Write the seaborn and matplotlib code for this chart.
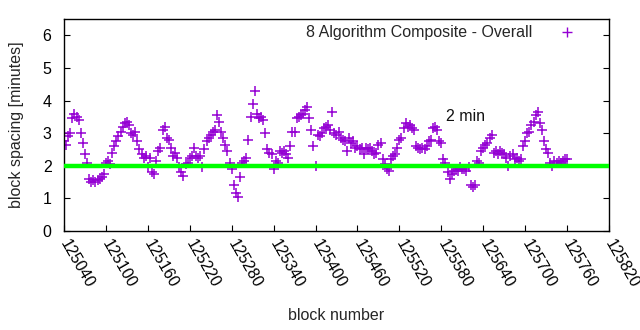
import matplotlib
matplotlib.use("Agg")
import matplotlib.pyplot as plt
import seaborn as sns
import pandas as pd
from matplotlib.lines import Line2D

# ---- data ----
first_block = 125040
block_step = 3
spacing = [
    2.75, 2.65, 2.9, 3.0, 3.45, 3.6, 3.5, 3.4, 3.0, 2.7,
    2.35, 2.1, 1.6, 1.5, 1.55, 1.5, 1.55, 1.6, 1.65, 1.75,
    2.1, 2.15, 2.05, 2.4, 2.6, 2.75, 2.9, 3.05, 3.2, 3.3,
    3.35, 3.25, 3.0, 2.95, 3.05, 2.75, 2.5, 2.35, 2.25, 2.3,
    1.95, 2.25, 1.8, 1.75, 2.15, 2.45, 2.55, 3.1, 3.2, 2.85,
    2.8, 2.55, 2.3, 2.4, 2.25, 1.95, 1.8, 1.7, 2.05, 2.1,
    2.25, 2.3, 2.55, 2.3, 2.25, 2.3, 1.95, 2.5, 2.75, 2.85,
    2.95, 3.05, 3.1, 3.55, 3.35, 3.05, 2.85, 2.65, 2.45, 2.1,
    1.9, 1.4, 1.15, 1.05, 1.65, 2.1, 2.15, 2.25, 2.8, 3.5,
    3.9, 4.3, 3.6, 3.45, 3.5, 3.4, 3.0, 2.5, 2.4, 2.35,
    1.9, 2.15, 2.1, 2.45, 2.4, 2.45, 2.35, 2.25, 2.6, 3.05,
    3.05, 3.45, 3.5, 3.55, 3.6, 3.7, 3.8, 3.45, 3.1, 2.6,
    2.0, 2.95, 2.9, 3.0, 3.15, 3.2, 3.25, 3.1, 3.65, 3.0,
    2.95, 3.05, 2.85, 2.8, 2.75, 2.45, 2.85, 2.7, 2.75, 2.55,
    2.6, 2.5, 2.55, 2.35, 2.55, 2.5, 2.55, 2.45, 2.35, 2.4,
    2.65, 2.7, 2.2, 2.05, 1.9, 1.85, 2.2, 2.3, 2.35, 2.55,
    2.8, 2.85, 3.15, 3.3, 3.2, 3.25, 3.15, 3.1, 2.6, 2.55,
    2.5, 2.55, 2.5, 2.6, 2.75, 2.8, 3.15, 3.2, 3.1, 2.75,
    2.7, 2.2, 2.1, 1.8, 1.6, 1.75, 1.85, 1.9, 1.85, 1.95,
    1.9, 1.9, 1.85, 1.95, 1.4, 1.35, 1.4, 2.15, 2.1, 2.45,
    2.55, 2.65, 2.7, 2.85, 2.95, 2.4, 2.45, 2.35, 2.45, 2.4,
    2.35, 2.25, 2.0, 2.3, 2.35, 2.2, 2.25, 2.15, 2.2, 2.6,
    2.75, 3.0, 3.05, 3.25, 3.35, 3.55, 3.65, 3.3, 3.1, 2.75,
    2.5, 2.4, 2.1, 2.0, 2.15, 2.1, 2.15, 2.1, 2.15, 2.2,
    2.2,
]
blocks = [first_block + block_step * i for i in range(len(spacing))]
target_minutes = 2
series_label = "8 Algorithm Composite - Overall"
annotation_text = "2 min"
annotation_pos = (125587, 3.5)
x_ticks = list(range(125040, 125821, 60))
y_ticks = [0, 1, 2, 3, 4, 5, 6]
x_limits = (125040, 125820)
y_limits = (0, 6.5)

df = pd.DataFrame({"block": blocks, "spacing": spacing})

# ---- style ----
sns.set_style("white")
plt.rcParams["font.family"] = ["Liberation Sans", "DejaVu Sans"]
plt.rcParams["font.size"] = 11.5

purple = "#9400D3"
green = "#00FF00"

fig = plt.figure(figsize=(6.4, 3.3), dpi=100)
ax = fig.add_axes([64 / 640, 1 - 231 / 330, (609 - 64) / 640, (231 - 19) / 330])

sns.scatterplot(data=df, x="block", y="spacing", marker="+", color=purple,
                s=50, linewidth=1.1, ax=ax, legend=False, zorder=2)
ax.axhline(target_minutes, color=green, linewidth=3.2, zorder=3)

ax.text(annotation_pos[0], annotation_pos[1], annotation_text,
        ha="left", va="center", fontsize=11.5, color="#111111")

ax.set_xlim(*x_limits)
ax.set_ylim(*y_limits)
ax.set_xticks(x_ticks)
ax.set_xticklabels([str(t) for t in x_ticks])
ax.set_yticks(y_ticks)
ax.set_yticklabels([str(t) for t in y_ticks])

for sp in ax.spines.values():
    sp.set_visible(True)
    sp.set_color("black")
    sp.set_linewidth(1.0)

ax.tick_params(axis="y", direction="in", length=4.5, width=0.8, left=True,
               right=True, pad=9, labelsize=11.5, colors="black")
ax.tick_params(axis="x", direction="in", length=4.5, width=0.8, bottom=True,
               top=False, pad=7, labelsize=11.5, colors="black")
for lab in ax.get_xticklabels():
    lab.set_rotation(-60)
    lab.set_rotation_mode("anchor")
    lab.set_ha("left")
    lab.set_va("center")

ax.set_xlabel("block number", fontsize=11.5)
ax.set_ylabel("block spacing [minutes]", fontsize=11.5)
ax.xaxis.set_label_coords(0.5, (231 - 316) / 212)
ax.xaxis.label.set_va("center")
ax.yaxis.set_label_coords((17 - 64) / 545, 0.5)
ax.yaxis.label.set_va("center")

handle = Line2D([], [], marker="+", color=purple, linestyle="none",
                markersize=7, markeredgewidth=1.0)
ax.legend([handle], [series_label], loc="center right", markerfirst=False,
          frameon=False, bbox_to_anchor=(0.964, 0.935), handlelength=2.0,
          handletextpad=1.2, borderaxespad=0, fontsize=11.5)

fig.savefig("out.png", dpi=100)
